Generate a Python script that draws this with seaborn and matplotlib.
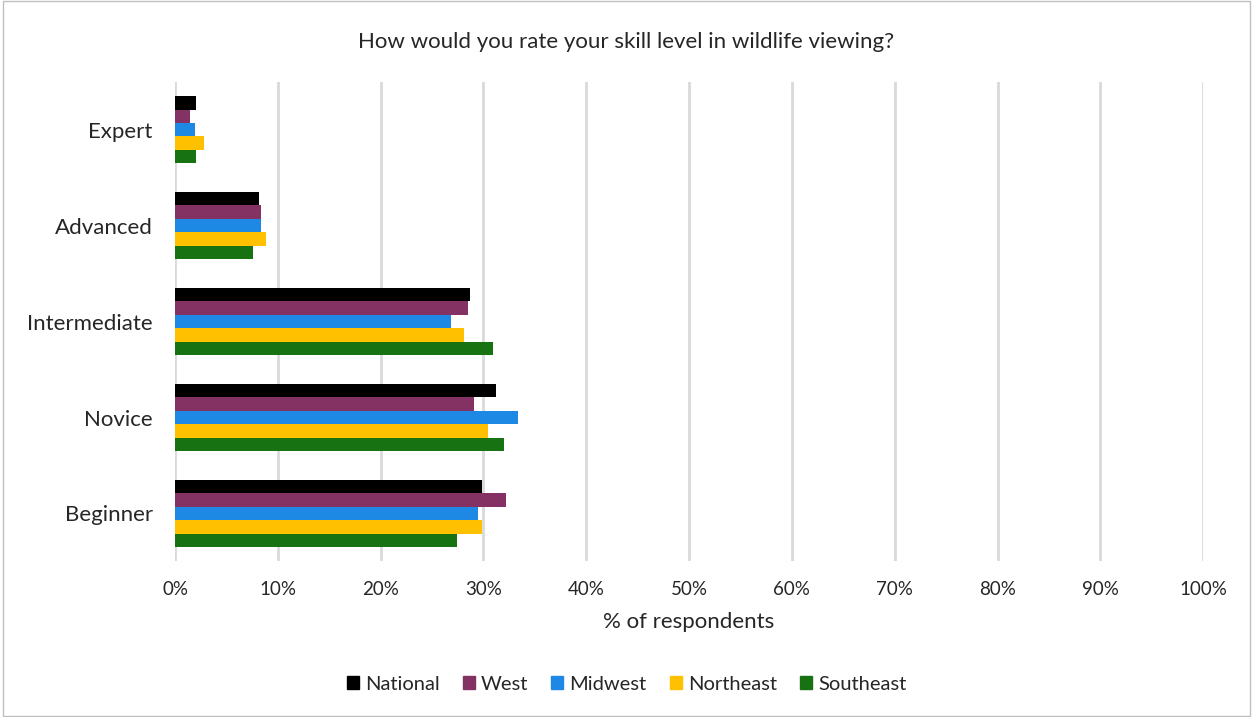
import matplotlib
matplotlib.use("Agg")
import matplotlib.pyplot as plt
import matplotlib.patches as mpatches
import seaborn as sns
import pandas as pd

levels = ["Expert", "Advanced", "Intermediate", "Novice", "Beginner"]
regions = ["National", "West", "Midwest", "Northeast", "Southeast"]

national = [2.0, 8.2, 28.7, 31.2, 29.9]
west = [1.5, 8.4, 28.5, 29.1, 32.2]
midwest = [1.9, 8.4, 26.8, 33.4, 29.5]
northeast = [2.8, 8.8, 28.1, 30.4, 29.9]
southeast = [2.0, 7.6, 30.9, 32.0, 27.4]

colors = ["#000000", "#843263", "#1E88E5", "#FFC000", "#177212"]

series = [national, west, midwest, northeast, southeast]
df = pd.DataFrame(
    [(lvl, reg, val) for reg, vals in zip(regions, series) for lvl, val in zip(levels, vals)],
    columns=["level", "region", "pct"],
)

sns.set_theme(style="white")
plt.rcParams["font.family"] = ["Lato", "DejaVu Sans"]

fig = plt.figure(figsize=(12.53, 7.17), dpi=100)
ax = fig.add_axes([0.1397, 0.217, 0.8205, 0.669])

sns.barplot(
    data=df, y="level", x="pct", hue="region", order=levels, hue_order=regions,
    palette=colors, saturation=1, orient="h", width=0.7, ax=ax, legend=False,
    edgecolor="none", linewidth=0,
)

ax.set_xlim(0, 100)
ax.set_xticks(range(0, 101, 10))
ax.set_xticklabels([f"{t}%" for t in range(0, 101, 10)], fontsize=13.5)
ax.tick_params(axis="y", labelsize=16, length=0, pad=16)
ax.tick_params(axis="x", length=0, pad=14)
ax.xaxis.grid(True, color="#D9D9D9", linewidth=2)
ax.set_axisbelow(True)
for s in ax.spines.values():
    s.set_visible(False)
ax.set_ylabel("")
ax.set_xlabel("% of respondents", fontsize=16, labelpad=10)

fig.text(0.5, 1 - 42 / 717, "How would you rate your skill level in wildlife viewing?",
         ha="center", va="center", fontsize=16)

handles = [mpatches.Patch(color=c, label=r) for c, r in zip(colors, regions)]
fig.legend(handles=handles, loc="center", bbox_to_anchor=(0.5, 1 - 684 / 717), ncol=5,
           frameon=False, fontsize=14.5, handlelength=0.6, handleheight=0.6,
           handletextpad=0.3, columnspacing=1.15)

fig.patches.append(mpatches.Rectangle((0.002, 0.002), 0.996, 0.996, transform=fig.transFigure,
                                      fill=False, edgecolor="#BFBFBF", linewidth=1))

fig.savefig("out.png", dpi=100, facecolor="white")
